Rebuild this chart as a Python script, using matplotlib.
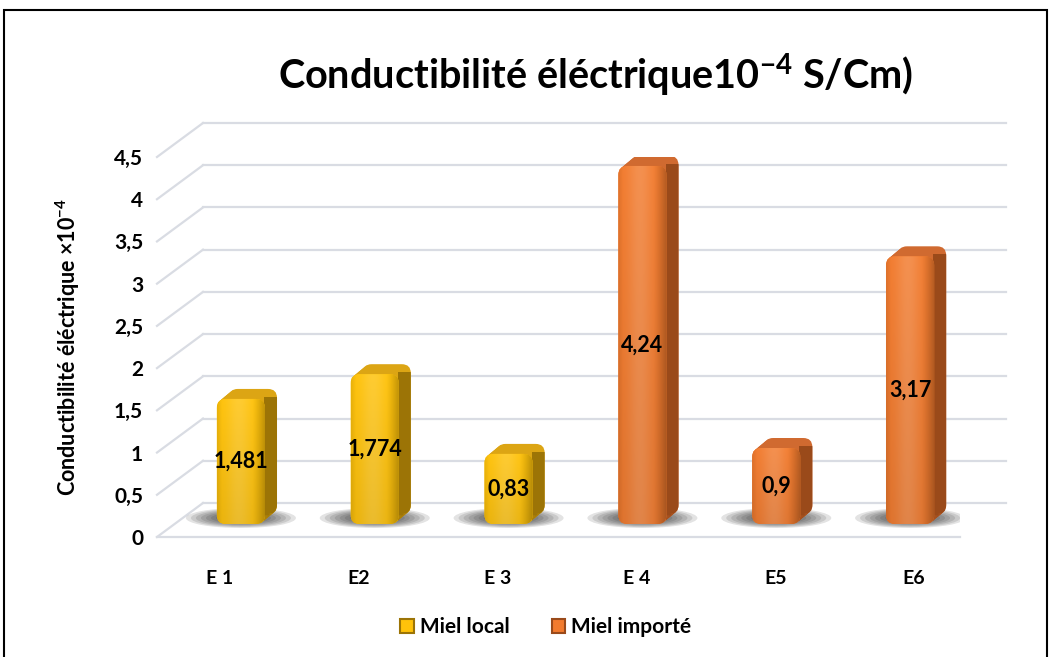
import matplotlib.pyplot as plt
import matplotlib.patches as mpatches
import matplotlib.transforms as mtransforms
import matplotlib.colors as mcolors
import numpy as np

plt.rcParams['font.family'] = ['Lato', 'DejaVu Sans']
plt.rcParams['font.weight'] = 'bold'
plt.rcParams['mathtext.fontset'] = 'custom'
plt.rcParams['mathtext.rm'] = 'Lato:bold'
plt.rcParams['mathtext.bf'] = 'Lato:bold'
plt.rcParams['mathtext.it'] = 'Lato:bold'

# data
categories = ['E 1', 'E2', 'E 3', 'E 4', 'E5', 'E6']
series_names = ['Miel local', 'Miel importé']
miel_local = [1.481, 1.774, 0.83]
miel_importe = [4.24, 0.9, 3.17]
value_labels = ['1,481', '1,774', '0,83', '4,24', '0,9', '3,17']
yticks = [0, 0.5, 1, 1.5, 2, 2.5, 3, 3.5, 4, 4.5]
ytick_labels = ['0', '0,5', '1', '1,5', '2', '2,5', '3', '3,5', '4', '4,5']

# colours: front, top, side
local_colors = ('#FFC20A', '#DCA514', '#9C7406')
importe_colors = ('#F27B2E', '#D06A30', '#9A4A1A')
grid_color = '#D9DCE3'

fig = plt.figure(figsize=(10.5, 6.57), dpi=100)
ax = fig.add_axes([157/1050, 120/657, 803/1050, 380/657])
ax.set_xlim(-0.5, 5.5)
ax.set_ylim(0, 4.5)

px_x = 6 / 803      # data units per pixel
px_y = 4.5 / 380
aspect = px_y / px_x

# pseudo 3D walls: back gridlines + diagonals
depth_x, depth_y = 46 * px_x, 34 * px_y
for v in yticks:
    ax.plot([-0.5 + depth_x, 5.5 + depth_x], [v + depth_y, v + depth_y],
            color=grid_color, lw=1.6, clip_on=False, zorder=0)
    ax.plot([-0.5, -0.5 + depth_x], [v, v + depth_y],
            color=grid_color, lw=1.6, clip_on=False, zorder=0)
ax.plot([-0.5, 5.5], [0, 0], color=grid_color, lw=1.6, clip_on=False, zorder=0)

bar_dx, bar_dy = 0.17, 0.13
side_dx, side_dy = 0.12, 0.10
bar_tr = ax.transData + mtransforms.ScaledTranslation(bar_dx, bar_dy, fig.dpi_scale_trans)


def shade(color, nx=80, ny=200):
    base = np.array(mcolors.to_rgb(color))
    t = np.linspace(0, 1, nx)
    hi = 0.16 * np.exp(-((t - 0.45) / 0.25) ** 2)
    dark = 0.26 * np.clip((t - 0.72) / 0.28, 0, 1) ** 1.3 + 0.08 * np.clip((0.1 - t) / 0.1, 0, 1)
    row = base[None, :] * (1 - dark[:, None])
    row = row + (1 - row) * hi[:, None]
    s = np.linspace(0, 1, ny)[:, None, None]
    img = row[None, :, :] * (1 - 0.08 * s)
    return np.clip(img, 0, 1)


def draw_bar(ax, x, h, front, top, side):
    w = 0.36
    r = 9 * px_x
    style = f'round,pad=0,rounding_size={r}'
    # floor shadow
    for k in range(7):
        ax.add_patch(mpatches.Ellipse((x, 6 * px_y), (110 - 10 * k) * px_x,
                                      (20 - 1.8 * k) * px_y, transform=bar_tr,
                                      facecolor='#1a1a1a', alpha=0.12, lw=0, zorder=1))
    # extruded depth: top colour everywhere, side colour on the right strip
    side_clip = mpatches.Rectangle((x + w / 2 - 1 * px_x, -0.2), 1, h + 0.2 + 2 * px_y,
                                   transform=bar_tr, visible=False)
    ax.add_patch(side_clip)
    n = 8
    for k in range(1, n + 1):
        off = mtransforms.ScaledTranslation(bar_dx + side_dx * k / n, bar_dy + side_dy * k / n,
                                            fig.dpi_scale_trans)
        for col, clip in ((top, None), (side, side_clip)):
            p = mpatches.FancyBboxPatch((x - w / 2, 0), w, h, boxstyle=style,
                                        mutation_aspect=aspect, transform=ax.transData + off,
                                        facecolor=col, edgecolor='none', zorder=2)
            ax.add_patch(p)
            if clip is not None:
                p.set_clip_path(clip)
    fp = mpatches.FancyBboxPatch((x - w / 2, 0), w, h, boxstyle=style,
                                 mutation_aspect=aspect, transform=bar_tr,
                                 facecolor=front, edgecolor='none', zorder=3)
    ax.add_patch(fp)
    im = ax.imshow(shade(front), extent=(x - w / 2, x + w / 2, 0, h), transform=bar_tr,
                   aspect='auto', zorder=4, interpolation='bilinear')
    im.set_clip_path(fp)


values = miel_local + miel_importe
for i, v in enumerate(values):
    front, top, side = local_colors if i < len(miel_local) else importe_colors
    draw_bar(ax, i, v, front, top, side)
    ax.text(i, v / 2, value_labels[i], transform=bar_tr, ha='center', va='center',
            fontsize=15.5, fontweight='bold', color='black', zorder=6)

ax.set_xlim(-0.5, 5.5)
ax.set_ylim(0, 4.5)
for s in ax.spines.values():
    s.set_visible(False)
ax.set_xticks(range(len(categories)), categories, fontsize=14, fontweight='bold')
ax.set_yticks(yticks, ytick_labels, fontsize=15, fontweight='bold')
ax.tick_params(axis='x', length=0, pad=24)
ax.tick_params(axis='y', length=0, pad=10)
# perspective shift of the category labels
for i, lbl in enumerate(ax.get_xticklabels()):
    lbl.set_transform(lbl.get_transform() +
                      mtransforms.ScaledTranslation((5 * i - 4) / 100, 0, fig.dpi_scale_trans))
ax.set_ylabel('Conductibilité éléctrique ×10$^{-4}$', fontsize=15.5, fontweight='bold')
ax.yaxis.set_label_coords(-0.093, 0.5)

fig.text(596/1050, 1 - 75/657, 'Conductibilité éléctrique10$^{-4}$ S/Cm)',
         ha='center', va='center', fontsize=28.5, fontweight='bold')

handles = [mpatches.Patch(facecolor=local_colors[0], edgecolor=local_colors[2], lw=1.5),
           mpatches.Patch(facecolor=importe_colors[0], edgecolor=importe_colors[2], lw=1.5)]
fig.legend(handles, series_names, loc='center', bbox_to_anchor=(546/1050, 1 - 627/657),
           ncol=2, frameon=False, handlelength=0.65, handleheight=0.65,
           handletextpad=0.3, columnspacing=2.0, prop={'weight': 'bold', 'size': 15})

fig.add_artist(mpatches.Rectangle((4/1050, -0.05), 1043/1050, 1.05 - 10/657,
                                  transform=fig.transFigure, fill=False,
                                  edgecolor='black', lw=1.5))

fig.savefig('out.png', dpi=100)
